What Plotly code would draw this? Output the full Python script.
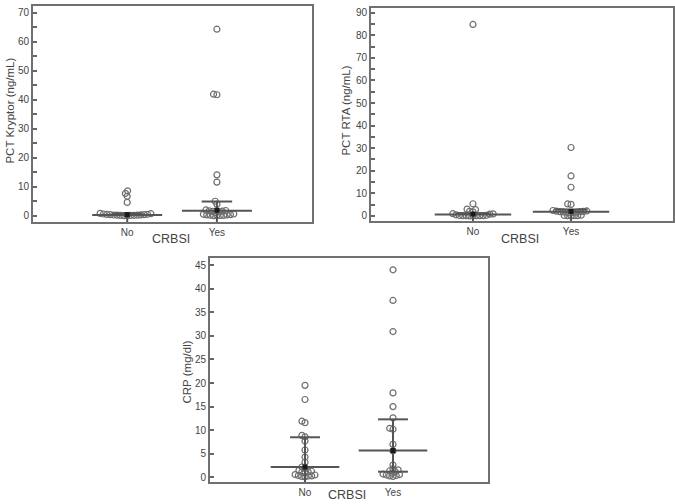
import numpy as np
import plotly.graph_objects as go

W, H = 675, 504

categories = ["No", "Yes"]

# PCT Kryptor (ng/mL)
kry_no = [8.6, 7.7, 6.7, 4.6, 0.8, 0.7, 0.6, 0.5, 0.45, 0.4, 0.35, 0.3, 0.25, 0.2, 0.2, 0.15, 0.1, 0.1, 0.05, 0.05]
kry_yes = [64.3, 41.7, 41.9, 14.1, 11.6, 5.0, 4.0, 2.0, 1.8, 1.7, 1.6, 1.5, 1.3, 1.1,
           0.6, 0.5, 0.4, 0.3, 0.3, 0.2, 0.1, 0.1, 0.05, 0.0]
kry_center = [0.25, 1.7]
kry_hi = [0.8, 4.9]
kry_lo = [0.0, 0.0]
kry_mark = [0.4, 1.9]

# PCT RTA (ng/mL)
rta_no = [84.8, 5.4, 3.0, 2.8, 2.0, 1.8, 1.0, 0.9, 0.8, 0.5, 0.3, 0.2, 0.15, 0.1, 0.1, 0.05, 0.05, 0.0, 0.0]
rta_yes = [30.3, 17.7, 12.7, 5.3, 5.1, 2.4, 2.2, 2.1, 2.0, 1.9, 1.9, 1.8, 1.7, 1.6, 1.5, 1.4,
           0.3, 0.2, 0.1, 0.1, 0.05, 0.0]
rta_center = [0.6, 1.8]
rta_hi = [1.2, 2.9]
rta_lo = [0.0, 0.0]
rta_mark = [0.8, 2.0]

# CRP (mg/dl)
crp_no = [19.5, 16.5, 11.9, 11.6, 8.9, 8.6, 7.7, 5.8, 4.3, 3.2, 2.2, 1.9, 1.5, 1.3, 1.2, 1.1,
          0.9, 0.6, 0.5, 0.4, 0.3, 0.3, 0.2, 0.1]
crp_yes = [44.0, 37.5, 30.9, 17.9, 15.0, 12.6, 10.4, 10.2, 7.0, 5.6, 2.6, 1.8, 1.6, 1.4, 1.2,
           0.9, 0.7, 0.6, 0.5, 0.4, 0.3, 0.2]
crp_center = [2.2, 5.7]
crp_hi = [8.5, 12.3]
crp_lo = [0.0, 1.2]
crp_mark = [2.2, 5.7]

# panel geometry in pixels (left, right, top, bottom) and axis ranges
panels = [
    dict(px=(33, 312, 5, 222), xr=(-1.05, 2.06), yr=(-2.2, 72.3), dt=10, minor=5,
         title="PCT Kryptor (ng/mL)", no=kry_no, yes=kry_yes, c=kry_center, hi=kry_hi,
         lo=kry_lo, m=kry_mark, lo_line=[False, False], ytx=10, yty=110, xty=239),
    dict(px=(371, 673, 7, 221), xr=(-1.04, 2.04), yr=(-2.3, 92.1), dt=10, minor=5,
         title="PCT RTA (ng/mL)", no=rta_no, yes=rta_yes, c=rta_center, hi=rta_hi,
         lo=rta_lo, m=rta_mark, lo_line=[False, False], ytx=346, yty=110, xty=239),
    dict(px=(210, 488, 258, 483), xr=(-1.08, 2.08), yr=(-1.0, 46.5), dt=5, minor=None,
         title="CRP (mg/dl)", no=crp_no, yes=crp_yes, c=crp_center, hi=crp_hi,
         lo=crp_lo, m=crp_mark, lo_line=[False, True], ytx=187, yty=373, xty=496),
]


def swarm(vals, ppu_y, d):
    """Simple beeswarm: returns x offsets in pixels."""
    order = np.argsort(vals)
    placed = []
    offs = np.zeros(len(vals))
    for i in order:
        y = vals[i] * ppu_y
        forb = []
        for (xj, yj) in placed:
            dy = abs(y - yj)
            if dy < d:
                r = np.sqrt(d * d - dy * dy)
                forb.append((xj - r, xj + r))
        cands = [0.0] + [a for a, b in forb] + [b for a, b in forb]
        cands = sorted(cands, key=lambda c: (abs(c), c))
        chosen = 0.0
        for c in cands:
            if all(not (a + 1e-9 < c < b - 1e-9) for a, b in forb):
                chosen = c
                break
        offs[i] = chosen
        placed.append((chosen, y))
    return offs


fig = go.Figure()
line_col = "#555555"
pt_col = "#6e6e6e"
txt_col = "#444444"
font = "Arial, Liberation Sans, sans-serif"
annotations = []

for k, p in enumerate(panels):
    L, R, T, B = p["px"]
    sfx = "" if k == 0 else str(k + 1)
    xa, ya = "x" + sfx, "y" + sfx
    ppu_x = (R - L) / (p["xr"][1] - p["xr"][0])
    ppu_y = (B - T) / (p["yr"][1] - p["yr"][0])
    for ci, vals in enumerate([p["no"], p["yes"]]):
        vals = np.array(vals, dtype=float)
        offs = swarm(vals, ppu_y, 3.4)
        fig.add_trace(go.Scatter(
            x=ci + offs / ppu_x, y=vals, mode="markers", xaxis=xa, yaxis=ya,
            marker=dict(symbol="circle-open", size=6, color=pt_col, line=dict(width=1.2, color=pt_col)),
            showlegend=False, hoverinfo="y"))
    for ci in range(2):
        lx, ly = [], []
        lx += [ci - 0.39, ci + 0.39, None]
        ly += [p["c"][ci], p["c"][ci], None]
        lx += [ci - 0.17, ci + 0.17, None]
        ly += [p["hi"][ci], p["hi"][ci], None]
        if p["lo_line"][ci]:
            lx += [ci - 0.17, ci + 0.17, None]
            ly += [p["lo"][ci], p["lo"][ci], None]
        lx += [ci, ci, None]
        ly += [p["lo"][ci] if p["lo_line"][ci] else p["yr"][0], p["hi"][ci], None]
        fig.add_trace(go.Scatter(x=lx, y=ly, mode="lines", xaxis=xa, yaxis=ya,
                                 line=dict(color=line_col, width=2), showlegend=False, hoverinfo="skip"))
    fig.add_trace(go.Scatter(x=[0, 1], y=p["m"], mode="markers", xaxis=xa, yaxis=ya,
                             marker=dict(symbol="square", size=5, color="#1a1a1a"),
                             showlegend=False, hoverinfo="y"))

    axis_common = dict(showline=True, mirror=True, linecolor="#707070", linewidth=2,
                       showgrid=False, zeroline=False,
                       tickfont=dict(family=font, size=10, color=txt_col))
    xdom = [L / W, R / W]
    ydom = [1 - B / H, 1 - T / H]
    fig.layout["xaxis" + sfx] = dict(axis_common, domain=xdom, range=list(p["xr"]), anchor=ya,
                                     tickvals=[0, 1], ticktext=categories, ticks="")
    ymax = int(np.floor(p["yr"][1] / p["dt"]) * p["dt"])
    ydict = dict(axis_common, domain=ydom, range=list(p["yr"]), anchor=xa,
                 tickvals=list(range(0, ymax + 1, p["dt"])), ticks="inside", ticklen=4,
                 tickwidth=1.5, tickcolor="#666666")
    if p["minor"]:
        ydict["minor"] = dict(tickvals=list(range(p["minor"], ymax, p["dt"])), ticks="inside",
                              ticklen=4, tickwidth=1.5, tickcolor="#666666")
    fig.layout["yaxis" + sfx] = ydict

    annotations.append(dict(text=p["title"], x=p["ytx"] / W, y=1 - p["yty"] / H, xref="paper",
                            yref="paper", textangle=-90, showarrow=False,
                            font=dict(family=font, size=11.5, color=txt_col),
                            xanchor="center", yanchor="middle"))
    annotations.append(dict(text="CRBSI", x=((L + R) / 2 - 2) / W, y=1 - p["xty"] / H, xref="paper",
                            yref="paper", showarrow=False,
                            font=dict(family=font, size=12.5, color=txt_col),
                            xanchor="center", yanchor="middle"))

fig.update_layout(width=W, height=H, margin=dict(l=0, r=0, t=0, b=0),
                  paper_bgcolor="white", plot_bgcolor="white", annotations=annotations,
                  showlegend=False)

fig.write_html("out.html")
